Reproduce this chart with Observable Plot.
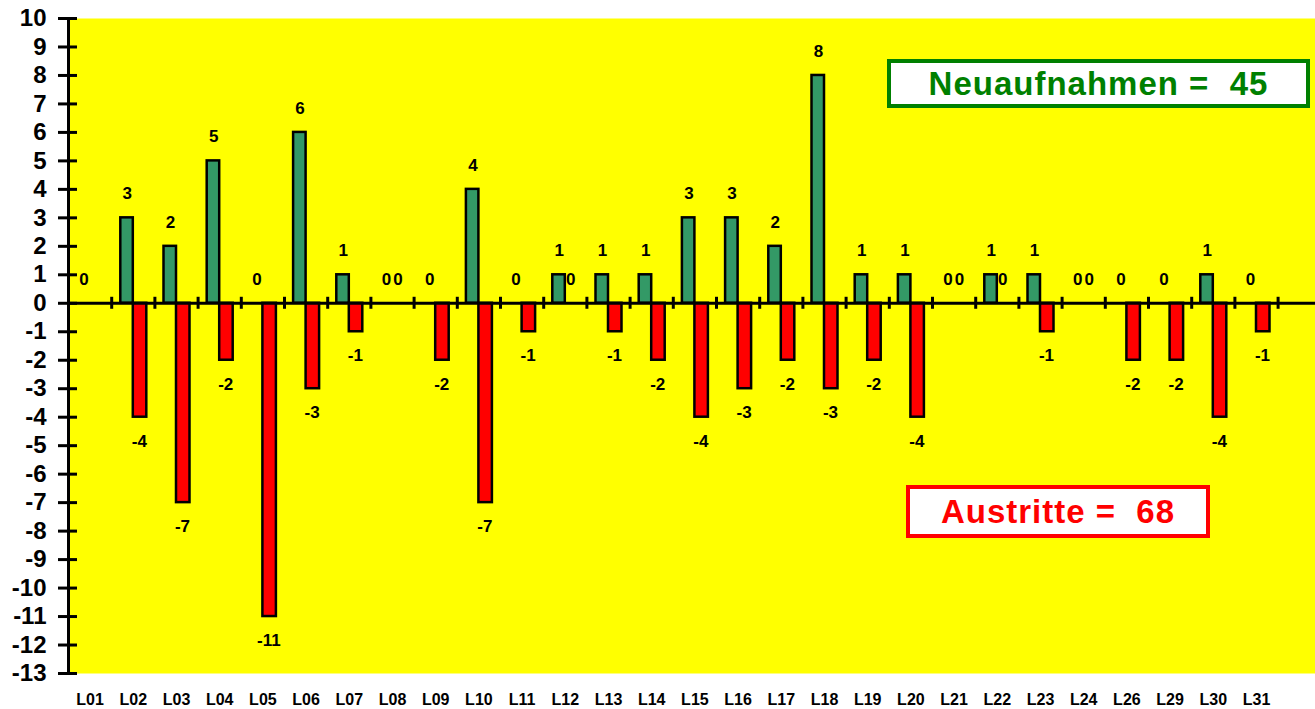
<!DOCTYPE html>
<html>
<head>
<meta charset="utf-8">
<script src="https://cdn.jsdelivr.net/npm/d3@7"></script>
<script src="https://cdn.jsdelivr.net/npm/@observablehq/plot@0.6"></script>
<style>
  html, body { margin: 0; padding: 0; background: #fff; }
  #wrap { position: relative; width: 1315px; height: 709px; font-family: "Liberation Sans", Arial, sans-serif; }
  .box { position: absolute; box-sizing: border-box; background: #fff; display: flex; align-items: center; justify-content: center;
         font-weight: bold; font-size: 33px; letter-spacing: 1px; white-space: pre; }
  #neu { left: 887px; top: 59px; width: 423px; height: 49px; border: 4px solid #008000; color: #008000; }
  #aus { left: 906px; top: 485px; width: 304px; height: 53px; border: 4px solid #ff0000; color: #ff0000; }
</style>
</head>
<body>
<div id="wrap"></div>
<script>
const categories = ["L01","L02","L03","L04","L05","L06","L07","L08","L09","L10","L11","L12","L13","L14","L15","L16","L17","L18","L19","L20","L21","L22","L23","L24","L26","L29","L30","L31"];
const neuaufnahmen = [0,3,2,5,0,6,1,0,0,4,0,1,1,1,3,3,2,8,1,1,0,1,1,0,0,0,1,0];
const austritte = [null,-4,-7,-2,-11,-3,-1,0,-2,-7,-1,0,-1,-2,-4,-3,-2,-3,-2,-4,0,0,-1,0,-2,-2,-4,-1];
const yTicks = d3.range(-13, 11);
const neuLabel = "Neuaufnahmen =  45";
const ausLabel = "Austritte =  68";

const W = 1315, H = 709, ML = 68, MT = 18, MB = 36;
const xEnd = 1277.6;
const bw = (xEnd - ML) / categories.length;

const green = categories.map((c, i) => ({cat: c, v: neuaufnahmen[i]}));
const red = categories.map((c, i) => ({cat: c, v: austritte[i]})).filter(d => d.v !== null);

const font = "Liberation Sans, Arial, sans-serif";
const lbl = {fontSize: 17, fontWeight: "bold", fill: "black", fontFamily: font};

const chart = Plot.plot({
  width: W, height: H,
  marginLeft: ML, marginTop: MT, marginBottom: MB, marginRight: 0,
  style: {fontFamily: font, background: "transparent"},
  x: {type: "band", domain: categories, range: [ML, xEnd], padding: 0, round: false, label: null},
  y: {domain: [-13, 10], label: null},
  marks: [
    Plot.frame({fill: "#ffff00", stroke: null}),
    Plot.barY(green.filter(d => d.v !== 0), {
      x: "cat", y: "v", fill: "#339966", stroke: "black", strokeWidth: 2.5,
      insetLeft: bw / 2 - 12.5, insetRight: bw / 2
    }),
    Plot.barY(red.filter(d => d.v !== 0), {
      x: "cat", y: "v", fill: "#ff0000", stroke: "black", strokeWidth: 2.5,
      insetLeft: bw / 2, insetRight: bw / 2 - 13.5
    }),
    Plot.ruleY([0], {stroke: "black", strokeWidth: 3}),
    Plot.ruleX(categories.slice(1), {x: d => d, y1: 0, y2: 0, dx: -bw / 2, insetTop: -6, insetBottom: -6, stroke: "black", strokeWidth: 3}),
    Plot.ruleX(categories.slice(-1), {x: d => d, y1: 0, y2: 0, dx: bw / 2, insetTop: -6, insetBottom: -6, stroke: "black", strokeWidth: 3}),
    Plot.frame({anchor: "left", stroke: "black", strokeWidth: 3}),
    Plot.tickY(yTicks, {y: d => d, insetRight: W - ML - 9, stroke: "black", strokeWidth: 3}),
    Plot.axisY({ticks: yTicks, tickSize: 10, tickPadding: 12, tickFormat: d => String(d), strokeWidth: 3,
      fontSize: 24, fontWeight: "bold", fill: "black", label: null}),
    Plot.axisX({tickSize: 0, tickPadding: 20, fontSize: 16, fontWeight: "bold", fill: "black", label: null}),
    Plot.text(green, {x: "cat", y: "v", text: d => String(d.v), dy: -24, dx: -6, ...lbl}),
    Plot.text(red.filter(d => d.v === 0), {x: "cat", y: "v", text: d => String(d.v), dy: -24, dx: 5.5, ...lbl}),
    Plot.text(red.filter(d => d.v < 0), {x: "cat", y: "v", text: d => String(d.v), dy: 24, dx: 6, ...lbl})
  ]
});

const wrap = document.getElementById("wrap");
wrap.appendChild(chart);
const neu = document.createElement("div"); neu.className = "box"; neu.id = "neu"; neu.textContent = neuLabel;
const aus = document.createElement("div"); aus.className = "box"; aus.id = "aus"; aus.textContent = ausLabel;
wrap.appendChild(neu); wrap.appendChild(aus);
</script>
</body>
</html>
